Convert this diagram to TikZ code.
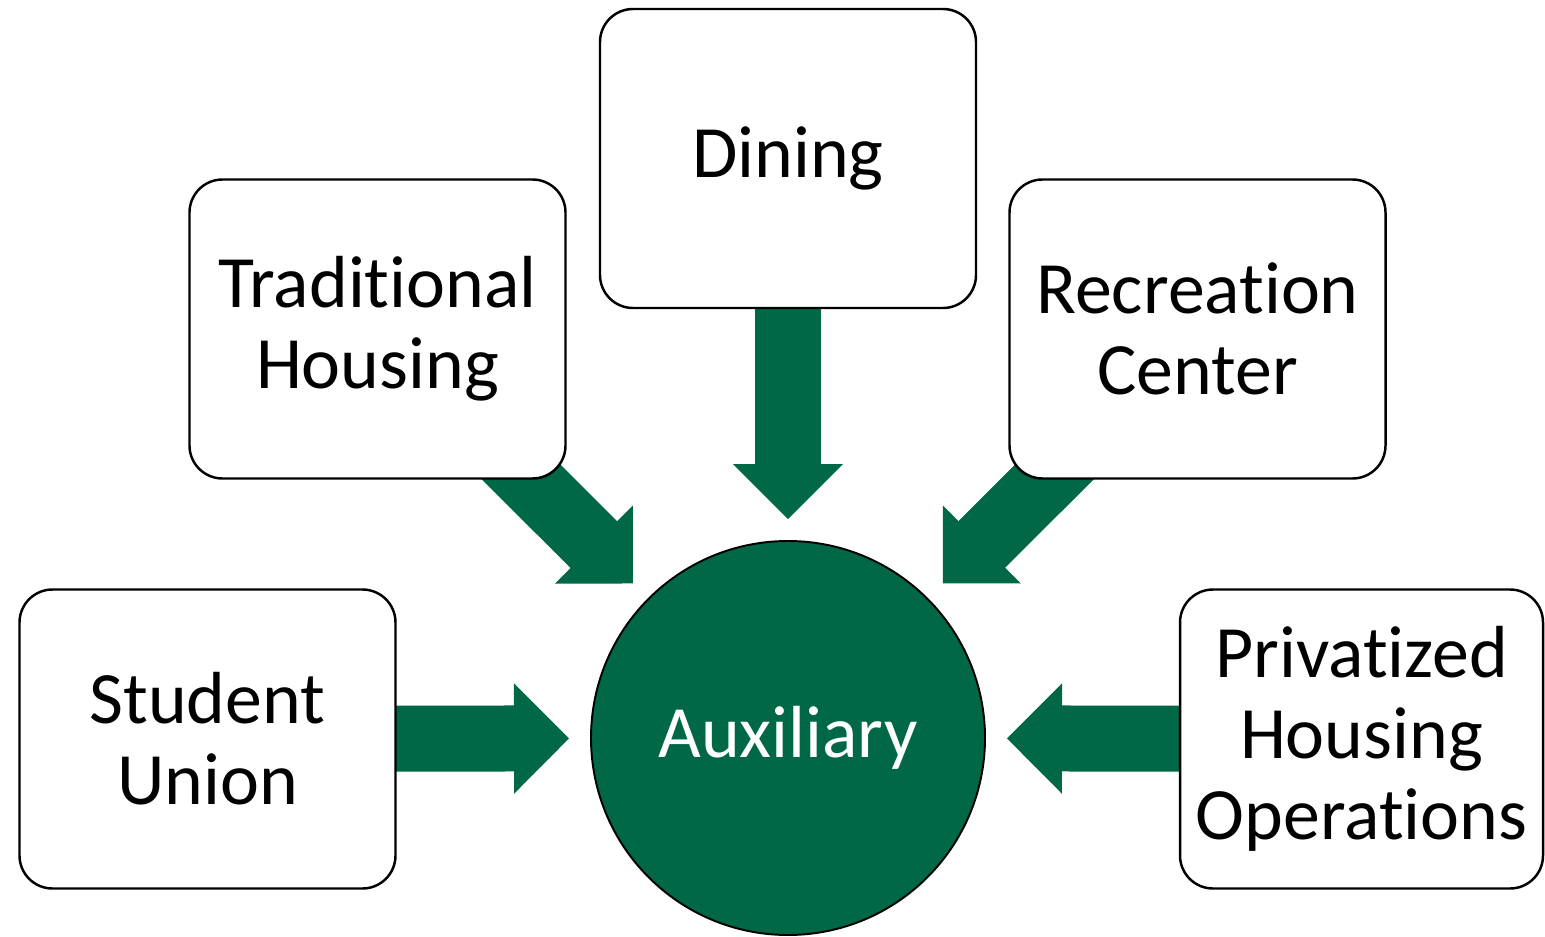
\documentclass[tikz,border=0pt]{standalone}
\usepackage{fontspec}
\setmainfont{Carlito}[Ligatures=NoCommon]
\usetikzlibrary{arrows.meta,backgrounds}
\definecolor{auxgreen}{RGB}{0,104,71}
\tikzset{
  unitbox/.style={draw, line width=1.4pt, rounded corners=0.66cm, fill=white, align=center,
    minimum width=7.52cm, minimum height=5.98cm, inner sep=0pt, font=\fontsize{42}{46}\selectfont},
  hub/.style={circle, draw, line width=1.1pt, fill=auxgreen, text=white, minimum size=7.88cm,
    inner sep=0pt, font=\fontsize{42}{46}\selectfont},
  feed/.style={auxgreen, line width=1.32cm, shorten >=0.42cm,
    -{Triangle[width=2.2cm, length=1.1cm, line width=1pt]}}
}

\begin{document}
\begin{tikzpicture}
\useasboundingbox (0,0) rectangle (30.9,18.72);
 \node[hub] (aux) at (15.76,3.96) {Auxiliary};
 \node[unitbox] (dining) at (15.76,15.55) {Dining};
 \node[unitbox] (tradhousing) at (7.55,12.14) {Traditional\\Housing};
 \node[unitbox] (reccenter) at (23.95,12.14) {Recreation\\Center};
 \node[unitbox] (stunion) at (4.15,3.94) {Student\\Union};
 \node[unitbox, minimum width=7.26cm] (privhousing) at (27.23,3.94) {Privatized\\Housing\\Operations};
 % arrows behind the boxes
 \begin{scope}[on background layer]
 \foreach \src in {dining,tradhousing,reccenter,stunion,privhousing}
  \draw[feed] (\src.center) -- (aux);
 \end{scope}
\end{tikzpicture}
\end{document}
